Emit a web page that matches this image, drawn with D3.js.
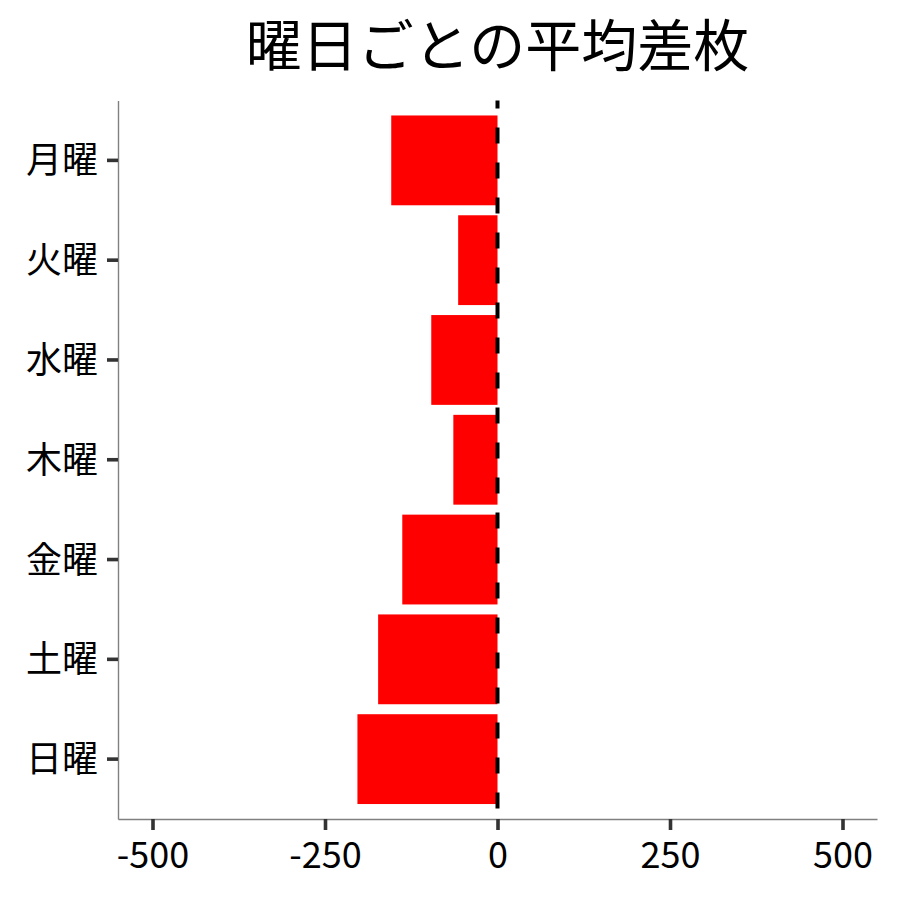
<!DOCTYPE html>
<html>
<head>
<meta charset="utf-8">
<script src="https://cdn.jsdelivr.net/npm/d3@7"></script>
<style>
  body { margin: 0; background: #fff; }
  text { font-family: "Noto Sans CJK JP", "Noto Sans", sans-serif; }
</style>
</head>
<body>
<div id="chart"></div>
<script>
// data
const days = ['月曜', '火曜', '水曜', '木曜', '金曜', '土曜', '日曜'];
const avgDiff = [-154, -57, -96, -64, -138, -173, -203];
const xTicks = [-500, -250, 0, 250, 500];
const chartTitle = '曜日ごとの平均差枚';

// chart static params
const width = 900, height = 900;
const margin = {top: 100.5, right: 23, bottom: 81, left: 118};
const plotW = width - margin.left - margin.right,
      plotH = height - margin.top - margin.bottom;

const svg = d3.select('#chart')
  .append('svg')
    .attr('width', width)
    .attr('height', height);

const g = svg.append('g')
    .attr('transform', `translate(${margin.left},${margin.top})`);

// scales
const xScale = d3.scaleLinear()
    .domain([-550, 550])
    .range([0, plotW]);

const yScale = d3.scaleBand()
    .domain(days)
    .range([0, plotH])
    .paddingInner(0.1)
    .paddingOuter(0.15);

const rows = days.map((d, i) => ({day: d, value: avgDiff[i]}));

// bars
g.selectAll('rect.bar')
  .data(rows)
  .join('rect')
    .attr('class', 'bar')
    .attr('x', d => xScale(Math.min(0, d.value)))
    .attr('y', d => yScale(d.day))
    .attr('width', d => Math.abs(xScale(d.value) - xScale(0)))
    .attr('height', yScale.bandwidth())
    .attr('fill', '#ff0000');

// dashed zero line
g.append('line')
    .attr('x1', xScale(0)).attr('x2', xScale(0))
    .attr('y1', 0).attr('y2', plotH)
    .attr('stroke', '#000')
    .attr('stroke-width', 4)
    .attr('stroke-dasharray', '16,19')
    .attr('stroke-dashoffset', 8);

// x axis (plain hyphen minus like the reference)
const xAxis = g.append('g')
    .attr('transform', `translate(0,${plotH})`)
    .call(d3.axisBottom(xScale).tickValues(xTicks).tickFormat(d => String(d))
      .tickSize(11).tickPadding(12).tickSizeOuter(0));

// y axis
const yAxis = g.append('g')
    .call(d3.axisLeft(yScale).tickSize(11).tickPadding(9).tickSizeOuter(0));

[xAxis, yAxis].forEach(ax => {
  ax.select('.domain').attr('stroke', '#808080').attr('stroke-width', 1.4);
  ax.selectAll('.tick line').attr('stroke', '#333').attr('stroke-width', 3.6);
  ax.selectAll('.tick text')
    .attr('fill', '#000')
    .style('font-size', '36px')
    .style('font-family', '"Noto Sans CJK JP", sans-serif');
});
yAxis.selectAll('.tick text').attr('dy', '0.36em');

// title
svg.append('text')
    .attr('x', margin.left + plotW / 2)
    .attr('y', 66)
    .attr('text-anchor', 'middle')
    .style('font-size', '56px')
    .attr('fill', '#000')
    .text(chartTitle);
</script>
</body>
</html>
